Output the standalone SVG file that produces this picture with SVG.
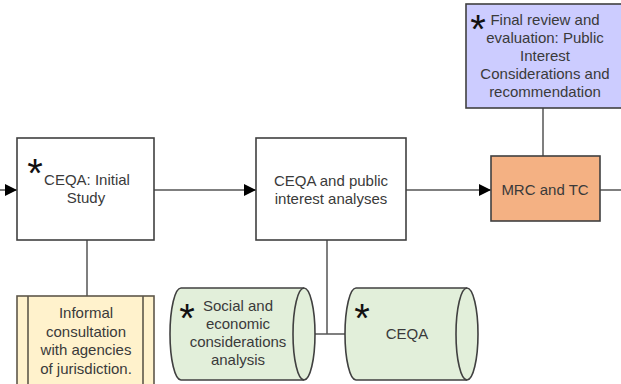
<svg xmlns="http://www.w3.org/2000/svg" width="621" height="384" viewBox="0 0 621 384">
<defs>
<marker id="arr" markerWidth="12" markerHeight="12" refX="12" refY="6" orient="auto" markerUnits="userSpaceOnUse">
<path d="M0,0 L12,6 L0,12 Z" fill="#000"/>
</marker>
<style>
.box{stroke:#404040;stroke-width:1.6}
.ln{stroke:#555;stroke-width:1.5;fill:none}
.t{font-family:"Liberation Sans",Arial,sans-serif;font-size:15px;fill:#3a3a3a;text-anchor:middle}
.star{font-family:"Liberation Sans",Arial,sans-serif;font-size:40px;fill:#111;text-anchor:middle}
</style>
</defs>
<rect width="621" height="384" fill="#fff"/>
<g id="connectors">
<line class="ln" x1="0" y1="190" x2="17" y2="190" marker-end="url(#arr)"/>
<line class="ln" x1="154" y1="190" x2="256" y2="190" marker-end="url(#arr)"/>
<line class="ln" x1="406" y1="190" x2="491" y2="190" marker-end="url(#arr)"/>
<line class="ln" x1="600" y1="190" x2="621" y2="190"/>
<line class="ln" x1="87" y1="240" x2="87" y2="296"/>
<line class="ln" x1="327" y1="240" x2="327" y2="334"/>
<line class="ln" x1="305" y1="334" x2="345" y2="334"/>
<line class="ln" x1="543" y1="108" x2="543" y2="156"/>
</g>
<g id="initial-study">
<rect class="box" x="17" y="138" width="137" height="102" fill="#fff"/>
<text class="star" x="35" y="187">*</text>
<text class="t" x="87" y="185">CEQA: Initial</text>
<text class="t" x="86" y="203">Study</text>
</g>
<g id="informal-consultation">
<rect x="17" y="296" width="137" height="100" fill="#FFF2CC" stroke="#5e574a" stroke-width="1.6"/>
<line x1="28" y1="296" x2="28" y2="396" stroke="#5e574a" stroke-width="1.6"/>
<line x1="143" y1="296" x2="143" y2="396" stroke="#5e574a" stroke-width="1.6"/>
<text class="t" x="86" y="318">Informal</text>
<text class="t" x="86" y="336.5">consultation</text>
<text class="t" x="86" y="355">with agencies</text>
<text class="t" x="86" y="373.5">of jurisdiction.</text>
</g>
<g id="public-interest">
<rect class="box" x="256" y="138" width="150" height="102" fill="#fff"/>
<text class="t" x="331" y="186">CEQA and public</text>
<text class="t" x="331" y="204">interest analyses</text>
</g>
<g id="social-economic">
<path class="box" d="M181,288 L304,288 A11,46 0 0 1 304,380 L181,380 A11,46 0 0 1 181,288 Z" fill="#E2EFDA"/>
<path class="box" d="M304,288 A11,46 0 0 0 304,380" fill="none"/>
<text class="star" x="187" y="332">*</text>
<text class="t" x="238" y="311">Social and</text>
<text class="t" x="238" y="329">economic</text>
<text class="t" x="238" y="347">considerations</text>
<text class="t" x="238" y="365">analysis</text>
</g>
<g id="ceqa">
<path class="box" d="M356,288 L467,288 A11,46 0 0 1 467,380 L356,380 A11,46 0 0 1 356,288 Z" fill="#E2EFDA"/>
<path class="box" d="M467,288 A11,46 0 0 0 467,380" fill="none"/>
<text class="star" x="362" y="332">*</text>
<text class="t" x="407" y="339">CEQA</text>
</g>
<g id="final-review">
<rect class="box" x="466" y="4" width="165" height="104" fill="#CCCCFF"/>
<text class="star" x="478" y="43">*</text>
<text class="t" x="545" y="25">Final review and</text>
<text class="t" x="545" y="43">evaluation: Public</text>
<text class="t" x="545" y="61">Interest</text>
<text class="t" x="545" y="79">Considerations and</text>
<text class="t" x="545" y="97">recommendation</text>
</g>
<g id="mrc-tc">
<rect class="box" x="491" y="156" width="109" height="65" fill="#F4B183"/>
<text class="t" x="545" y="195">MRC and TC</text>
</g>
</svg>
